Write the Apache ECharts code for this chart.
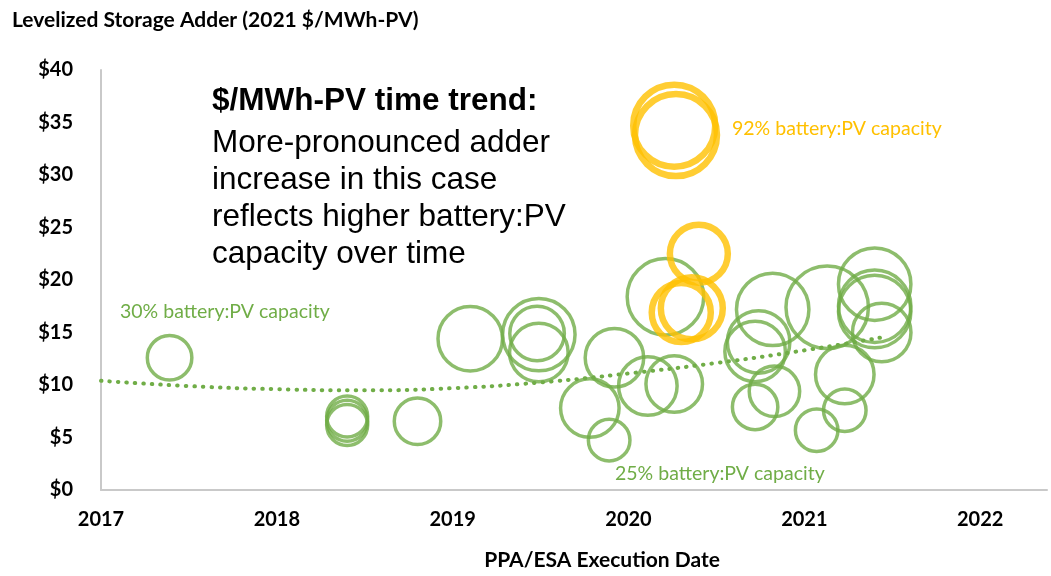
<!DOCTYPE html>
<html>
<head>
<meta charset="utf-8">
<title>Levelized Storage Adder</title>
<script src="https://cdn.jsdelivr.net/npm/echarts@6/dist/echarts.min.js"></script>
<style>
  html, body { margin: 0; padding: 0; background: #fff; }
  #chart { width: 1051px; height: 576px; }
</style>
</head>
<body>
<div id="chart"></div>
<script>
// 25-30% battery:PV projects (green)
var greenDates = [2017.39, 2018.40, 2018.40, 2018.40, 2018.80, 2019.10, 2019.49, 2019.48, 2019.49,
  2019.92, 2019.78, 2019.89, 2020.11, 2020.26, 2020.21, 2020.82, 2020.74, 2020.72, 2020.83, 2020.72,
  2021.13, 2021.23, 2021.07, 2021.23, 2021.40, 2021.40, 2021.40, 2021.44];
var greenValues = [12.6, 7.0, 6.6, 6.2, 6.55, 14.4, 14.8, 14.9, 13.1,
  12.6, 7.8, 4.75, 9.9, 10.1, 18.4, 17.2, 14.1, 13.2, 9.4, 7.9,
  17.4, 11.0, 5.7, 7.6, 19.6, 17.5, 17.0, 15.0];
var greenSizes = [124, 105, 105, 105, 135, 260, 328, 186, 214,
  214, 214, 108, 214, 200, 366, 328, 244, 229, 159, 129,
  425, 214, 113, 113, 328, 328, 328, 214];

// 92% battery:PV projects (orange)
var orangeDates = [2020.26, 2020.27, 2020.40, 2020.30, 2020.36];
var orangeValues = [34.7, 33.8, 22.5, 16.9, 17.3];
var orangeSizes = [420, 420, 210, 218, 240];

// trendline
var trendDates = [2017.0, 2017.5, 2018.0, 2018.5, 2019.0, 2019.5, 2020.0, 2020.5, 2021.0, 2021.43];
var trendValues = [10.4, 9.9, 9.6, 9.5, 9.7, 10.25, 11.1, 12.1, 13.3, 14.5];

var GREEN = "#70AD47";
var ORANGE = "#FFC000";

function bubbles(dates, values, sizes) {
  return dates.map(function (d, i) {
    return [d, values[i], sizes[i]];
  });
}

var chart = echarts.init(document.getElementById("chart"));
chart.setOption({
  animation: false,
  title: {
    text: "Levelized Storage Adder (2021 $/MWh-PV)",
    left: 7,
    top: 5,
    textStyle: { fontFamily: "Lato", fontWeight: "bold", fontSize: 21, color: "#000" }
  },
  grid: { left: 101, right: 4, top: 70, bottom: 85 },
  xAxis: {
    type: "value",
    min: 2017,
    max: 2022.38,
    interval: 1,
    name: "PPA/ESA Execution Date",
    nameLocation: "middle",
    nameGap: 60,
    nameTextStyle: {
      fontFamily: "Lato", fontWeight: "bold", fontSize: 21, color: "#000",
      padding: [0, 0, 0, 56]
    },
    axisLine: { show: true, lineStyle: { color: "#C9C9C9", width: 2 } },
    axisTick: { show: false },
    splitLine: { show: false },
    axisLabel: {
      margin: 20,
      fontFamily: "Lato",
      fontWeight: "bold",
      fontSize: 20,
      color: "#000",
      showMaxLabel: false,
      formatter: function (v) {
        return Math.abs(v - Math.round(v)) < 1e-6 ? String(Math.round(v)) : "";
      }
    }
  },
  yAxis: {
    type: "value",
    min: 0,
    max: 40,
    interval: 5,
    axisLine: { show: true, lineStyle: { color: "#C9C9C9", width: 2 } },
    axisTick: { show: false },
    splitLine: { show: false },
    axisLabel: {
      margin: 28,
      fontFamily: "Lato",
      fontWeight: "bold",
      fontSize: 20,
      color: "#000",
      formatter: function (v) { return "$" + v; }
    }
  },
  series: [
    {
      type: "line",
      data: trendDates.map(function (d, i) { return [d, trendValues[i]]; }),
      smooth: true,
      symbol: "none",
      z: 1,
      lineStyle: { color: GREEN, width: 4, type: [0.5, 8], cap: "round" }
    },
    {
      type: "scatter",
      data: bubbles(greenDates, greenValues, greenSizes),
      symbolSize: function (v) { return Math.sqrt(v[2]) * 4; },
      z: 2,
      itemStyle: { color: "rgba(0,0,0,0)", borderColor: GREEN, borderWidth: 3.5 }
    },
    {
      type: "scatter",
      data: bubbles(orangeDates, orangeValues, orangeSizes),
      symbolSize: function (v) { return Math.sqrt(v[2]) * 4; },
      z: 3,
      itemStyle: { color: "rgba(0,0,0,0)", borderColor: ORANGE, borderWidth: 6.5 }
    }
  ],
  graphic: [
    {
      type: "text", left: 212, top: 85,
      style: { text: "$/MWh-PV time trend:", fontFamily: "Liberation Sans, Arial", fontWeight: "bold", fontSize: 31.5, fill: "#000" }
    },
    {
      type: "text", left: 212, top: 125,
      style: {
        text: "More-pronounced adder\nincrease in this case\nreflects higher battery:PV\ncapacity over time",
        fontFamily: "Liberation Sans, Arial", fontSize: 31.5, lineHeight: 37, fill: "#000"
      }
    },
    {
      type: "text", left: 120, top: 302,
      style: { text: "30% battery:PV capacity", fontFamily: "Lato", fontSize: 19.5, fill: GREEN }
    },
    {
      type: "text", left: 732, top: 119,
      style: { text: "92% battery:PV capacity", fontFamily: "Lato", fontSize: 19.5, fill: ORANGE }
    },
    {
      type: "text", left: 615, top: 464,
      style: { text: "25% battery:PV capacity", fontFamily: "Lato", fontSize: 19.5, fill: GREEN }
    }
  ]
});
</script>
</body>
</html>
